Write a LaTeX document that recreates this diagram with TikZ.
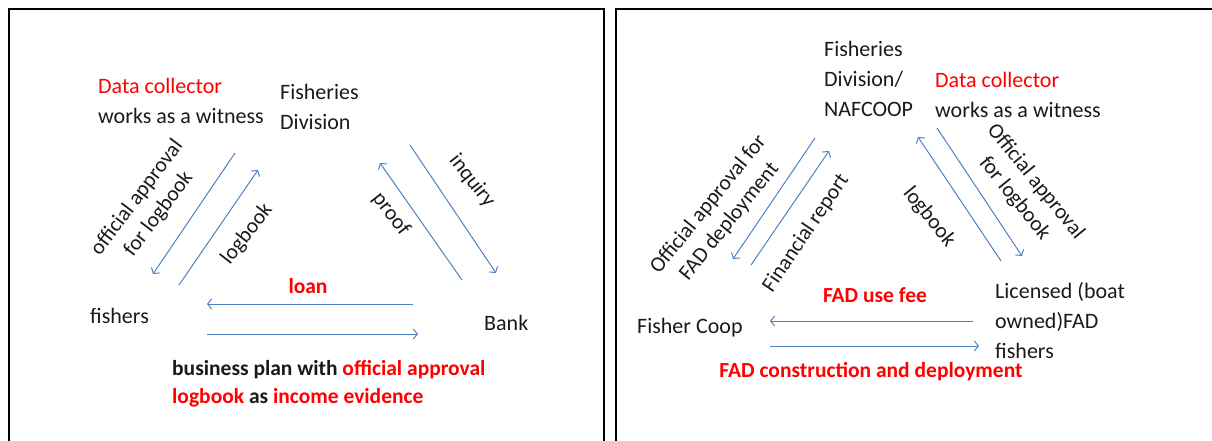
\documentclass[tikz,border=0pt]{standalone}
\usepackage{fontspec}
\setmainfont{Carlito}
\usetikzlibrary{arrows.meta}
\definecolor{flow}{HTML}{4F81BD}
\definecolor{note}{HTML}{FF0000}
\definecolor{ink}{HTML}{1A1A1A}

\tikzset{
  txt/.style={inner sep=0pt, text=ink, font=\fontsize{22}{30}\selectfont, align=left},
  lbl/.style={inner sep=0pt, text=ink, font=\fontsize{21.5}{27}\selectfont, align=center},
  hot/.style={inner sep=0pt, text=note, font=\fontsize{21.5}{28}\selectfont\bfseries},
  flowarrow/.style={draw=flow, line width=1pt, -{Straight Barb[length=4pt,width=10pt]}},
  frame/.style={draw=black, line width=2pt}
}

\begin{document}
\begin{tikzpicture}[x=1pt,y=-1pt]
  \useasboundingbox (0,0) rectangle (1212,441);

  % panel frames
  \draw[frame] (8.5,441) -- (8.5,9) -- (603.5,9) -- (603.5,441);
  \draw[frame] (616,441) -- (616,9) -- (1212,9);

  %% left panel: fishers, Bank, Fisheries Division
  \node[txt, anchor=west] (witnessA) at (98,100.5) {\textcolor{note}{Data collector}\\works as a witness};
  \node[txt, anchor=west] (fisdivA) at (280,107) {Fisheries\\Division};
  \node[txt, anchor=west] (fishersA) at (90,316) {fishers};
  \node[txt, anchor=west] (bankA) at (484,323) {Bank};

  % arrow ends
  \coordinate (aprTop) at (235,153);   \coordinate (aprBot) at (153,274);
  \coordinate (logBot) at (179,285);   \coordinate (logTop) at (258,170);
  \coordinate (prfBot) at (462,280);   \coordinate (prfTop) at (380,163);
  \coordinate (inqTop) at (410,145);   \coordinate (inqBot) at (496,273);
  \coordinate (loanR) at (413,304);    \coordinate (loanL) at (207,304);
  \coordinate (planL) at (207,334);    \coordinate (planR) at (418,334);

  \draw[flowarrow] (aprTop) -- (aprBot);
  \draw[flowarrow] (logBot) -- (logTop);
  \draw[flowarrow] (prfBot) -- (prfTop);
  \draw[flowarrow] (inqTop) -- (inqBot);
  \draw[flowarrow] (loanR) -- (loanL);
  \draw[flowarrow] (planL) -- (planR);

  \node[lbl, rotate=53] (aprA) at (148,206) {official approval\\for logbook};
  \node[lbl, rotate=52] (logA) at (247,234) {logbook};
  \node[lbl, rotate=-52] (prfA) at (391,214) {proof};
  \node[lbl, rotate=-52] (inqA) at (472,181) {inquiry};
  \node[hot] (loan) at (308,286) {loan};
  \node[hot, text=ink, anchor=west, align=left] (plan) at (172,384)
    {business plan with \textcolor{note}{official approval}\\
     \textcolor{note}{logbook} as \textcolor{note}{income evidence}};

  %% right panel: Fisher Coop, FAD fishers, Fisheries Division/NAFCOOP
  \node[txt, anchor=west] (fisdivB) at (824,79) {Fisheries\\Division/\\NAFCOOP};
  \node[txt, anchor=west] (witnessB) at (935,95) {\textcolor{note}{Data collector}\\works as a witness};
  \node[txt, anchor=west] (coop) at (637,328) {Fisher Coop};
  \node[txt, anchor=west] (fadfishers) at (995,321) {Licensed (boat\\owned)FAD\\fishers};

  \coordinate (fadTop) at (815,138);   \coordinate (fadBot) at (733,259);
  \coordinate (finBot) at (751,265);   \coordinate (finTop) at (829,151);
  \coordinate (lgbBot) at (1001,261);  \coordinate (lgbTop) at (918,137);
  \coordinate (offTop) at (937,128);   \coordinate (offBot) at (1022,256);
  \coordinate (feeR) at (973,321);     \coordinate (feeL) at (770,321);
  \coordinate (conL) at (770,346);     \coordinate (conR) at (979,346);

  \draw[flowarrow] (fadTop) -- (fadBot);
  \draw[flowarrow] (finBot) -- (finTop);
  \draw[flowarrow] (lgbBot) -- (lgbTop);
  \draw[flowarrow] (offTop) -- (offBot);
  \draw[flowarrow] (feeR) -- (feeL);
  \draw[flowarrow] (conL) -- (conR);

  \node[lbl, rotate=51] (fadB) at (719,213) {Official approval for\\FAD deployment};
  \node[lbl, rotate=56] (finB) at (806,233) {Financial report};
  \node[lbl, rotate=-51] (lgbB) at (929,217) {logbook};
  \node[lbl, rotate=-51] (offB) at (1025,190) {Official approval\\for logbook};
  \node[hot] (fee) at (875,295) {FAD use fee};
  \node[hot] (build) at (871,372) {FAD construction and deployment};
\end{tikzpicture}
\end{document}
